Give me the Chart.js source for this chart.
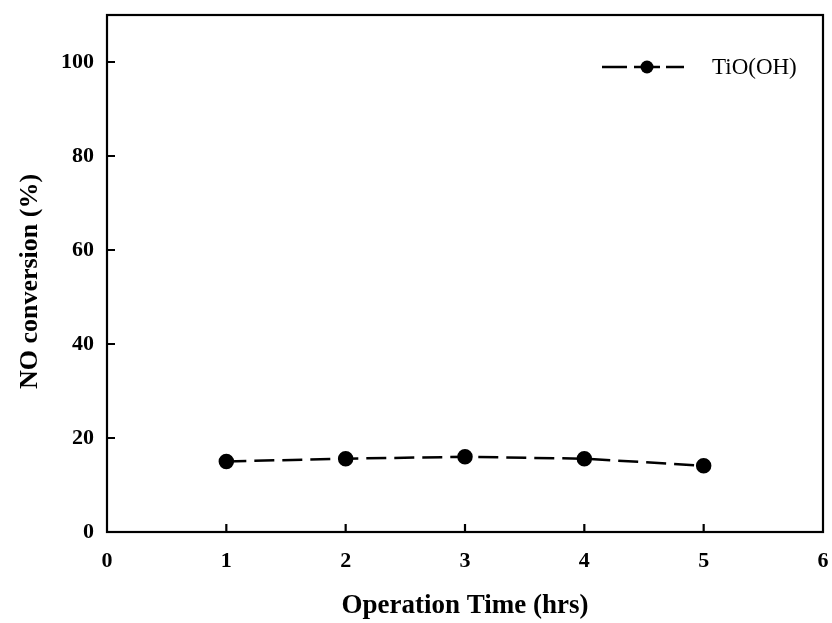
<!DOCTYPE html>
<html>
<head>
<meta charset="utf-8">
<script src="https://cdn.jsdelivr.net/npm/chart.js@4.4.1/dist/chart.umd.min.js"></script>
<style>
html,body{margin:0;padding:0;background:#fff}
#wrap{width:832px;height:623px}
</style>
</head>
<body>
<div id="wrap"><canvas id="chart" width="832" height="623"></canvas></div>
<script>
// data
let hours=[1,2,3,4,5]
let noConversion=[15,15.6,16,15.6,14.1]
let xTicks=[0,1,2,3,4,5,6]
let yTicks=[0,20,40,60,80,100]
let seriesName="TiO(OH)"

let serif="'Liberation Serif','Times New Roman',serif"

// inward ticks, frame, titles, legend
let decor={
id:"decor",
afterDraw(chart){
let ctx=chart.ctx
let a=chart.chartArea
let xs=chart.scales.x, ys=chart.scales.y
ctx.save()
ctx.strokeStyle="#000"
ctx.lineWidth=2.2
ctx.strokeRect(a.left,a.top,a.right-a.left,a.bottom-a.top)
ctx.beginPath()
xTicks.forEach(v=>{
if(v==0||v==6) return
let px=xs.getPixelForValue(v)
ctx.moveTo(px,a.bottom);ctx.lineTo(px,a.bottom-8)
})
yTicks.forEach(v=>{
if(v==0) return
let py=ys.getPixelForValue(v)
ctx.moveTo(a.left,py);ctx.lineTo(a.left+8,py)
})
ctx.stroke()

ctx.fillStyle="#000"
ctx.font="bold 27px "+serif
ctx.textAlign="center"
ctx.textBaseline="middle"
ctx.fillText("Operation Time (hrs)",(a.left+a.right)/2,606)
ctx.save()
ctx.translate(30,(a.top+a.bottom)/2+8)
ctx.rotate(-Math.PI/2)
ctx.font="bold 26px "+serif
ctx.fillText("NO conversion (%)",0,0)
ctx.restore()

// legend
let ly=67
ctx.lineWidth=2.5
ctx.beginPath()
ctx.moveTo(602,ly);ctx.lineTo(627,ly)
ctx.moveTo(634,ly);ctx.lineTo(660,ly)
ctx.moveTo(666,ly);ctx.lineTo(684,ly)
ctx.stroke()
ctx.beginPath()
ctx.arc(647,ly,6.5,0,Math.PI*2)
ctx.fill()
ctx.font="23px "+serif
ctx.textAlign="left"
ctx.fillText(seriesName,712,ly+1)
ctx.restore()
}
}

new Chart(document.getElementById("chart"),{
type:"scatter",
data:{
datasets:[{
label:seriesName,
data:hours.map((h,i)=>({x:h,y:noConversion[i]})),
showLine:true,
borderColor:"#000",
backgroundColor:"#000",
borderWidth:2.5,
borderDash:[20,8],
pointRadius:6.5,
pointHoverRadius:6.5
}]
},
plugins:[decor],
options:{
responsive:false,
animation:false,
layout:{padding:{top:15,right:7,left:0,bottom:0}},
plugins:{legend:{display:false},tooltip:{enabled:false}},
scales:{
x:{
type:"linear",min:0,max:6,
afterBuildTicks:s=>{s.ticks=xTicks.map(v=>({value:v}))},
afterFit:s=>{s.height=91;s.paddingLeft=0;s.paddingRight=0},
border:{display:false},
grid:{display:false,drawTicks:false},
ticks:{color:"#000",padding:16,maxRotation:0,font:{family:serif,size:22,weight:"bold"}}
},
y:{
min:0,max:110,
afterBuildTicks:s=>{s.ticks=yTicks.map(v=>({value:v}))},
afterFit:s=>{s.width=107;s.paddingTop=0;s.paddingBottom=0},
border:{display:false},
grid:{display:false,drawTicks:false},
ticks:{color:"#000",padding:13,font:{family:serif,size:22,weight:"bold"}}
}
}
}
})
</script>
</body>
</html>
